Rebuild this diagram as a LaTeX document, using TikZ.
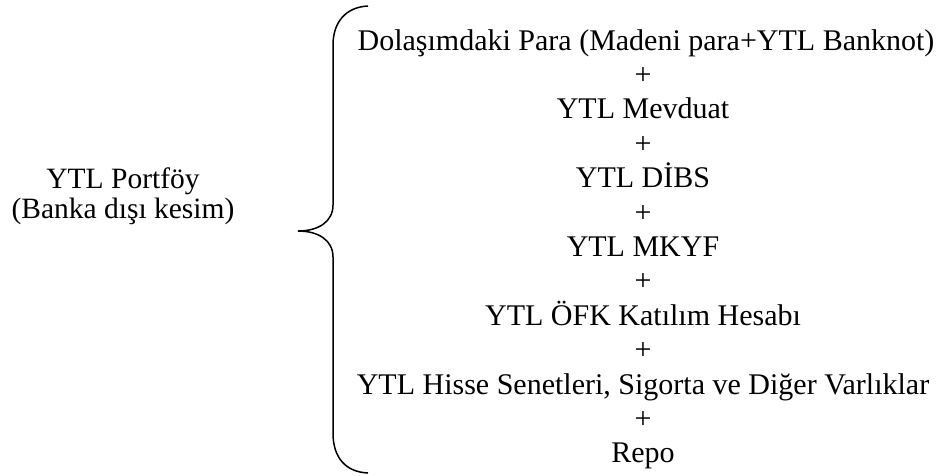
\documentclass[tikz,border=0pt]{standalone}
\usepackage{fontspec}
\setmainfont{Liberation Serif}
\usepackage{tikz}

\begin{document}
\begin{tikzpicture}[x=1pt, y=-1pt, line width=1.5pt,
    item/.style={anchor=base, inner sep=0pt, font=\fontsize{30pt}{34pt}\selectfont},
    side/.style={anchor=base, inner sep=0pt, font=\fontsize{29.5pt}{30pt}\selectfont}]
        \useasboundingbox (0,0) rectangle (939,475);

        \coordinate (T) at (368,6);
        \coordinate (U) at (333,45);
        \coordinate (V) at (333,205);
        \coordinate (M) at (298,231);
        \coordinate (W) at (333,257);
        \coordinate (X) at (333,433);
        \coordinate (B) at (368,473);

        % brace
        \draw (T) .. controls (346,7) and (333,22) .. (U) -- (V)
          .. controls (333,222) and (318,231) .. (M)
          .. controls (318,231) and (333,240) .. (W) -- (X)
          .. controls (333,458) and (346,472) .. (B);

        \node[side] (lhs1) at (123,188) {YTL Portföy};
        \node[side] (lhs2) at (123,218) {(Banka dışı kesim)};

        \node[item] (r1) at (646,50) {Dolaşımdaki Para (Madeni para+YTL Banknot)};
        \node[item] (p1) at (643,84.4) {+};
        \node[item] (r2) at (643,118.8) {YTL Mevduat};
        \node[item] (p2) at (643,153.2) {+};
        \node[item] (r3) at (643,187.6) {YTL DİBS};
        \node[item] (p3) at (643,222) {+};
        \node[item] (r4) at (643,256.4) {YTL MKYF};
        \node[item] (p4) at (643,290.8) {+};
        \node[item] (r5) at (643,325.2) {YTL ÖFK Katılım Hesabı};
        \node[item] (p5) at (643,359.6) {+};
        \node[item] (r6) at (643,394) {YTL Hisse Senetleri, Sigorta ve Diğer Varlıklar};
        \node[item] (p6) at (643,428.4) {+};
        \node[item] (r7) at (643,462.8) {Repo};
      \end{tikzpicture}
\end{document}
